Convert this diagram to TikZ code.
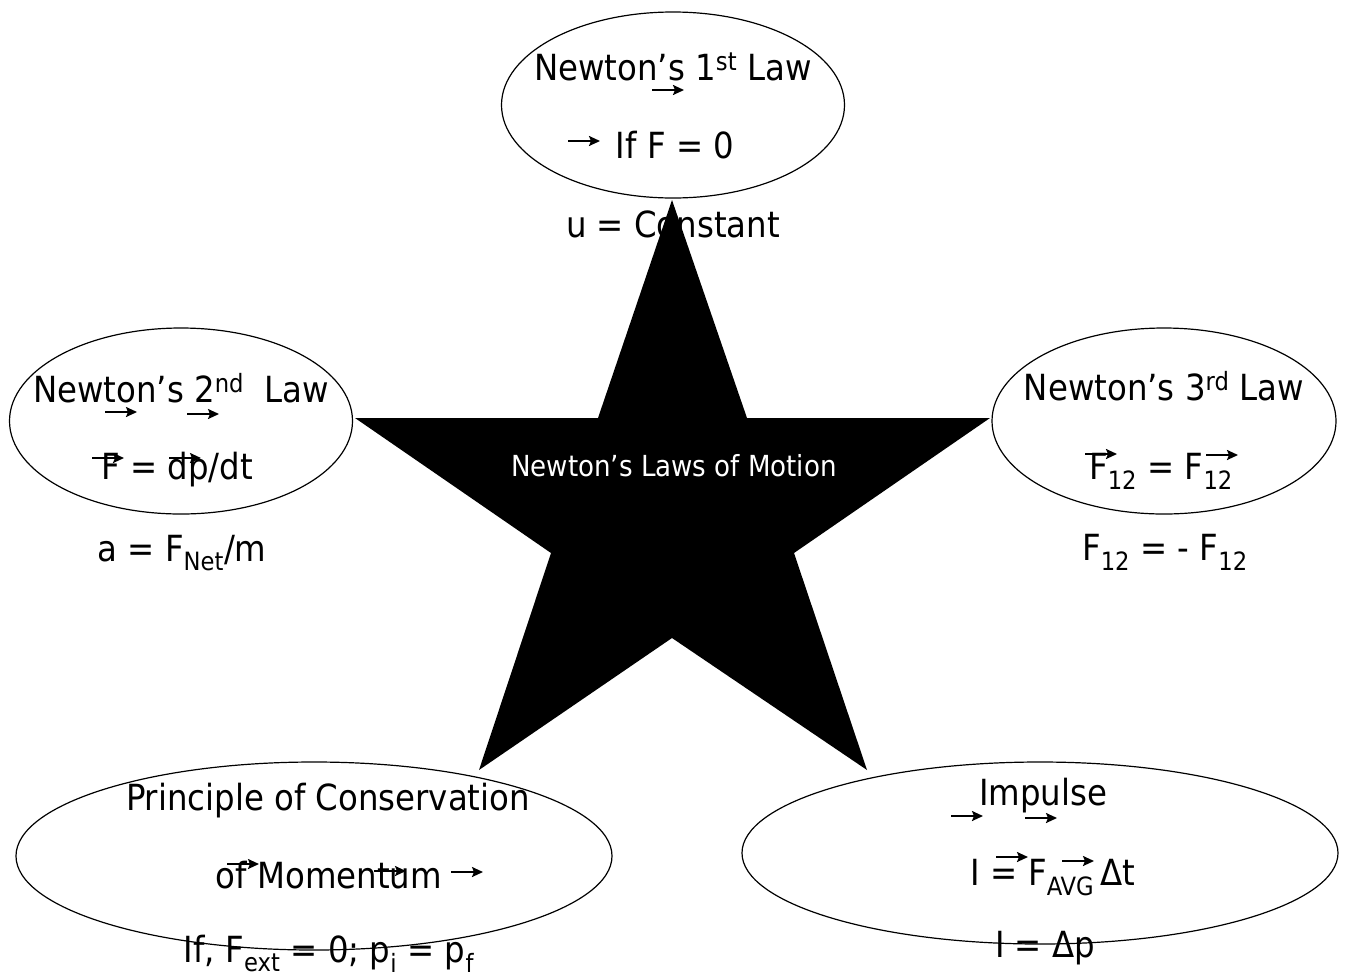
\documentclass[tikz,border=0pt]{standalone}
\usepackage{fontspec}
\setmainfont{DejaVu Sans Condensed}
\usetikzlibrary{shapes.geometric, arrows.meta}
\tikzset{law_t/.style={draw, ellipse, line width=1.2pt, inner sep=0pt},
txt_t/.style={font=\fontsize{36}{40}\selectfont, inner sep=0pt, anchor=base},
vec_t/.style={inner sep=0pt, minimum width=32pt, minimum height=12pt,
  path picture={\draw[line width=2pt, -{Stealth[length=11pt, width=10pt, inset=2pt]}]
    (path picture bounding box.west) -- (path picture bounding box.east);}},
title_t/.style={font=\fontsize{29}{32}\selectfont, text=white, inner sep=0pt, anchor=base}}

\begin{document}
\begin{tikzpicture}[x=1pt, y=-1pt]
  \useasboundingbox (0,0) rectangle (1349,978);
  % laws
  \node[law_t, minimum width=343pt, minimum height=186pt] (first) at (673,105) {};
  \node[law_t, minimum width=343pt, minimum height=186pt] (second) at (181,421) {};
  \node[law_t, minimum width=344pt, minimum height=186pt] (third) at (1164,421) {};
  \node[law_t, minimum width=596pt, minimum height=188pt] (cons) at (314,856) {};
  \node[law_t, minimum width=596pt, minimum height=182pt] (imp) at (1040,853) {};
  % texts
  \node[txt_t] (first_a) at (673,80) {Newton’s 1\textsuperscript{st} Law};
  \node[txt_t] (first_b) at (675,158) {If F = 0};
  \node[txt_t] (first_c) at (673,237) {u = Constant};
  \node[txt_t] (second_a) at (181,402) {Newton’s 2\textsuperscript{nd}\ \ Law};
  \node[txt_t] (second_b) at (177,479) {F = dp/dt};
  \node[txt_t] (second_c) at (182,561) {a = F\textsubscript{Net}/m};
  \node[txt_t] (third_a) at (1164,400) {Newton’s 3\textsuperscript{rd} Law};
  \node[txt_t] (third_b) at (1161,479) {F\textsubscript{12} = F\textsubscript{12}};
  \node[txt_t] (third_c) at (1165,560) {F\textsubscript{12} = - F\textsubscript{12}};
  \node[txt_t] (cons_a) at (328,810) {Principle of Conservation};
  \node[txt_t] (cons_b) at (329,888) {of Momentum};
  \node[txt_t] (cons_c) at (329,962) {If, F\textsubscript{ext} = 0; p\textsubscript{i} = p\textsubscript{f}};
  \node[txt_t] (imp_a) at (1043,805) {Impulse};
  \node[txt_t] (imp_b) at (1053,885) {I = F\textsubscript{AVG}\,Δt};
  \node[txt_t] (imp_c) at (1045,957) {I = Δp};
  % vector arrows
  \node[vec_t] (v1) at (668,90) {};
  \node[vec_t] (v2) at (584,141) {};
  \node[vec_t] (v3) at (121,412) {};
  \node[vec_t] (v4) at (203,414) {};
  \node[vec_t] (v5) at (108,458) {};
  \node[vec_t] (v6) at (185,458) {};
  \node[vec_t] (v7) at (1101,454) {};
  \node[vec_t] (v8) at (1222,455) {};
  \node[vec_t] (v9) at (243,864) {};
  \node[vec_t] (v10) at (390,871) {};
  \node[vec_t] (v11) at (467,872) {};
  \node[vec_t] (v12) at (967,816) {};
  \node[vec_t] (v13) at (1041,818) {};
  \node[vec_t] (v14) at (1012,857) {};
  \node[vec_t] (v15) at (1078,861) {};
  % star
  \fill (672,200) -- (747,418) -- (990,418) -- (794,553) -- (867,770) -- (672,638)
    -- (479,770) -- (551,553) -- (355,418) -- (598,418) -- cycle;
  \node[title_t] (title) at (674,476) {Newton’s Laws of Motion};
\end{tikzpicture}
\end{document}
